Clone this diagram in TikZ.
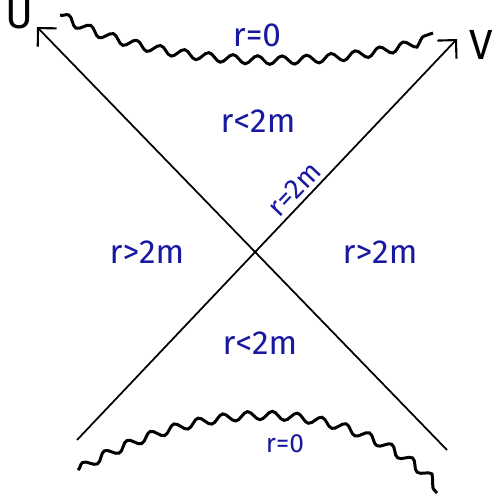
\documentclass[tikz,border=0pt]{standalone}
\usepackage{fontspec}
\setmainfont{Fira Sans}
\usetikzlibrary{arrows.meta,decorations.pathmorphing}

\definecolor{tinta}{RGB}{25,25,160}

\tikzset{
  eje/.style={line width=1pt, -{Straight Barb[length=7.5pt,width=15pt,line width=1.2pt]}},
  singular/.style={line width=1.7pt, decorate,
    decoration={snake, amplitude=2.4pt, segment length=14pt}},
  etiqueta/.style={text=tinta, font=\fontsize{19}{21}\selectfont},
  nombre/.style={font=\fontsize{24}{26}\selectfont}
}

\begin{document}
\begin{tikzpicture}[x=0.02cm,y=-0.02cm]
  \useasboundingbox (0,0) rectangle (492,500);

  % Extremos de los ejes
  \coordinate (vpie) at (77,440);
  \coordinate (vtip) at (457,39);
  \coordinate (upie) at (447,450);
  \coordinate (utip) at (37,27);

  % Ejes U y V
  \draw[eje] (vpie) -- (vtip)
    node[pos=0.6, sloped, above=-1pt, etiqueta, font=\fontsize{16}{18}\selectfont] {r=2m};
  \draw[eje] (upie) -- (utip);

  \node[nombre] (U) at (19,14) {U};
  \node[nombre] (V) at (481,45) {V};

  % Singularidades
  \draw[singular]
    (60,15) .. controls (150,65) and (330,70) .. (433,33);
  \draw[singular]
    (78,470) .. controls (190,405) and (340,390) .. (437,493);

  % Regiones
  \node[etiqueta] (r0arriba) at (257,35) {r=0};
  \node[etiqueta] (bhole) at (258,121) {r<2m};
  \node[etiqueta] (izq) at (147,252) {r>2m};
  \node[etiqueta] (der) at (380,252) {r>2m};
  \node[etiqueta] (whole) at (260,343) {r<2m};
  \node[etiqueta, font=\fontsize{15}{17}\selectfont] (r0abajo) at (285,444) {r=0};

\end{tikzpicture}
\end{document}
